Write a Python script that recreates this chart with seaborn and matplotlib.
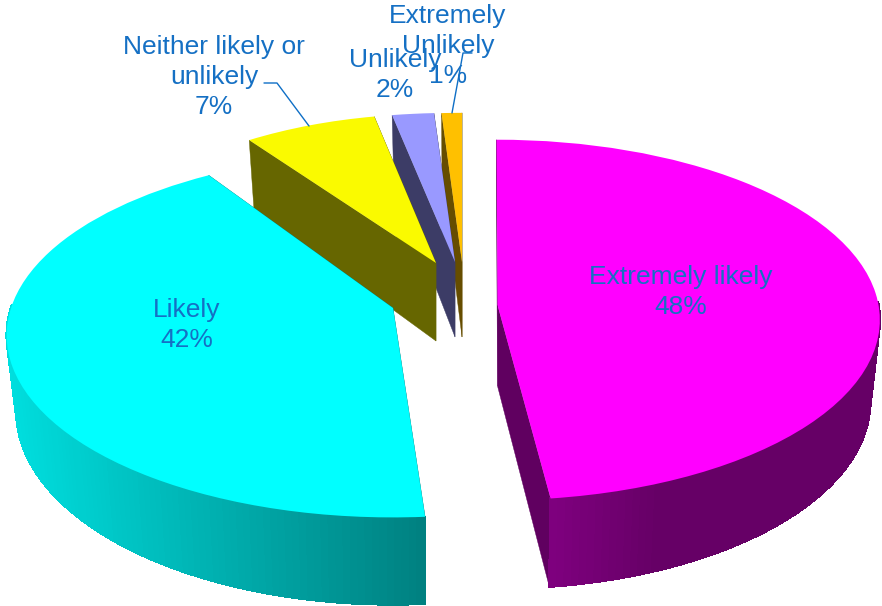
import numpy as np
import seaborn as sns
import matplotlib
matplotlib.use('Agg')
import matplotlib.pyplot as plt
from matplotlib.transforms import Transform

# Valores
categorias = ['Extremely likely', 'Likely', 'Neither likely or unlikely',
              'Unlikely', 'Extremely Unlikely']
valores = [48, 42, 7, 2, 1]
rotulos = ['Extremely likely\n48%', 'Likely\n42%',
           'Neither likely or\nunlikely\n7%', 'Unlikely\n2%',
           'Extremely\nUnlikely\n1%']

cores_topo = ['#FF00FF', '#00FFFF', '#FAFA00', '#9999FF', '#FFC000']
cores_corte = ['#600060', '#008080', '#666600', '#3C3C66', '#664D00']

# Geometria de cada fatia em pixels: ponta, raios, inclinação, altura, giro
ponta_x = [497.5, 393, 436, 455, 462]
ponta_y = [305, 308, 263, 262, 262]
raio_x = [381, 382, 355, 395, 385]
raio_y = [179, 178, 176, 176, 176]
inclinacao = [0.083, 0.15, 0.18, 0.18, 0.18]
altura = [81, 74, 78, 75, 75]
giro = [0.15, -3.1, 1, 0, 0]
reducao_base = 0.975
ordem_desenho = [4, 3, 2, 0, 1]

# Sombreamento da lateral: posição x e nível de brilho
lateral_x = [[548, 660, 880], [10, 427]]
lateral_nivel = [[128, 102, 102], [222, 128]]
lateral_base = [(1, 0, 1), (0, 1, 1)]

pos_rotulos = [(681, 292), (187, 325), (214, 77), (395, 75), (448, 46)]
cor_texto = '#1570C4'
guias_x = [[264, 277, 309], [472, 463, 452]]
guias_y = [[83, 83, 126], [53, 53, 113]]


def projetar(x, y, i):
    # Perspectiva do círculo unitário para a tela
    a = np.deg2rad(giro[i])
    xr = x * np.cos(a) - y * np.sin(a)
    yr = x * np.sin(a) + y * np.cos(a)
    den = 1 + inclinacao[i] * yr
    return (ponta_x[i] + raio_x[i] * xr / den,
            ponta_y[i] - raio_y[i] * yr / den, den)


def base(px, den, py, i):
    return ponta_x[i] + (px - ponta_x[i]) * reducao_base, py + altura[i] / den


class Perspectiva(Transform):
    input_dims = 2
    output_dims = 2
    has_inverse = False

    def __init__(self, i):
        super().__init__()
        self.i = i

    def transform_non_affine(self, values):
        px, py, _ = projetar(values[:, 0], values[:, 1], self.i)
        return np.column_stack([px, py])


sns.set_theme(style='white')
plt.rcParams['font.family'] = ['Liberation Sans', 'DejaVu Sans']
paleta = sns.color_palette(cores_topo)

fig, ax = plt.subplots(figsize=(8.82, 6.06), dpi=100)
fig.patch.set_facecolor('white')
ax.set_position([0, 0, 1, 1])

fatias, _ = ax.pie(valores, colors=paleta, startangle=90, counterclock=False,
                   wedgeprops={'linewidth': 0})

for z, i in enumerate(ordem_desenho):
    fatia = fatias[i]
    t1, t2 = np.deg2rad(fatia.theta1), np.deg2rad(fatia.theta2)
    z0 = (z + 1) * 10

    # Faces do corte
    for t in (t1, t2):
        px, py, den = projetar(np.cos(t), np.sin(t), i)
        bx, by = base(px, den, py, i)
        tx, ty = ponta_x[i], ponta_y[i]
        ax.fill([tx, px, bx, tx], [ty, py, by, ty + altura[i]],
                color=cores_corte[i], lw=0.3, zorder=z0)

    # Lateral externa, só a parte virada para a frente
    if i < len(lateral_x):
        angulos = np.linspace(t1, t2, 160)
        for a0, a1 in zip(angulos[:-1], angulos[1:]):
            if np.sin(np.deg2rad(giro[i]) + (a0 + a1) / 2) >= 0.02:
                continue
            x0, y0, d0 = projetar(np.cos(a0), np.sin(a0), i)
            x1, y1, d1 = projetar(np.cos(a1), np.sin(a1), i)
            bx0, by0 = base(x0, d0, y0, i)
            bx1, by1 = base(x1, d1, y1, i)
            nivel = np.interp((x0 + x1) / 2, lateral_x[i], lateral_nivel[i])
            cor = tuple(c * nivel / 255 for c in lateral_base[i])
            ax.fill([x0, x1, bx1, bx0], [y0, y1, by1, by0], color=cor,
                    lw=1, antialiased=False, zorder=z0 + 1)

    fatia.set_transform(Perspectiva(i) + ax.transData)
    fatia.set_zorder(z0 + 2)

ax.set_aspect('auto')
ax.set_xlim(0, 882)
ax.set_ylim(606, 0)
ax.set_frame_on(False)

for gx, gy in zip(guias_x, guias_y):
    ax.plot(gx, gy, color='#0F6FC6', lw=1, zorder=100)

for rotulo, (x, y) in zip(rotulos, pos_rotulos):
    ax.text(x, y, rotulo, ha='center', va='center', fontsize=19,
            color=cor_texto, linespacing=1.3, zorder=101)

fig.savefig('out.png', dpi=100)
